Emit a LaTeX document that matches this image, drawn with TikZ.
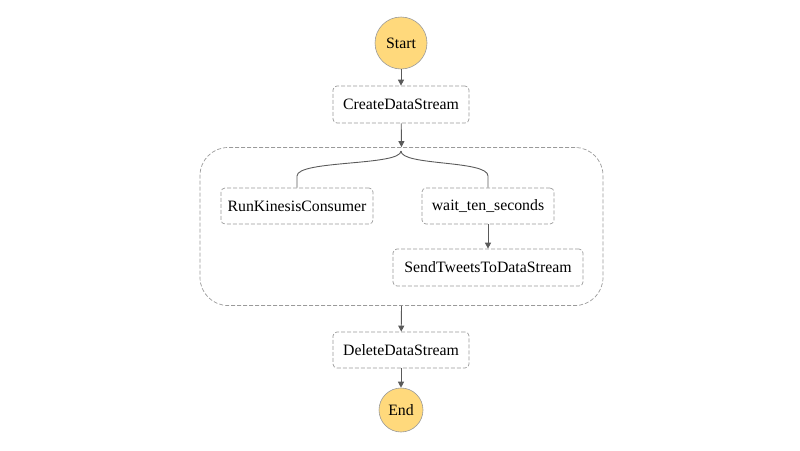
\documentclass[tikz,border=0pt]{standalone}
\usepackage{fontspec}
\setmainfont{Liberation Serif}
\usetikzlibrary{arrows.meta}
\definecolor{edgegray}{HTML}{5A5A5A}
\definecolor{boxgray}{HTML}{9A9A9A}
\definecolor{startfill}{HTML}{FFD97C}
\begin{document}
\begin{tikzpicture}[x=1pt,y=-1pt,
  statebox/.style={draw=boxgray, dashed, dash pattern=on 4pt off 2pt, rounded corners=4pt, line width=0.7pt, inner sep=0pt, font=\fontsize{15.8}{18}\selectfont},
  terminal/.style={circle, draw=boxgray, fill=startfill, line width=0.6pt, inner sep=0pt, font=\fontsize{15.8}{18}\selectfont},
  flow/.style={draw=edgegray, line width=0.9pt, -{Triangle[length=6pt,width=6pt]}},
  branch/.style={draw=edgegray, line width=0.9pt}]
\useasboundingbox (0,0) rectangle (800,450);
\node[terminal, minimum size=52pt] (start) at (401,43) {Start};
\node[statebox, minimum width=136pt, minimum height=37pt] (create) at (401,104.5) {CreateDataStream};
\node[draw=boxgray, dashed, dash pattern=on 4pt off 2pt, rounded corners=28pt, line width=0.7pt, minimum width=403pt, minimum height=158pt, inner sep=0pt] (par) at (401.5,226.5) {};
\node[statebox, minimum width=152pt, minimum height=36pt] (run) at (297,206) {RunKinesisConsumer};
\node[statebox, minimum width=132pt, minimum height=36pt] (wait) at (488,206) {wait\_ten\_seconds};
\node[statebox, minimum width=190pt, minimum height=37pt] (send) at (488,267.5) {SendTweetsToDataStream};
\node[statebox, minimum width=136pt, minimum height=36pt] (delete) at (401,350) {DeleteDataStream};
\node[terminal, minimum size=44pt] (end) at (401,410) {End};
\coordinate (fork) at (401,151);
\draw[flow] (start) -- (create);
\draw[flow] (create) -- (par.north);
\draw[branch] (fork) .. controls (401,166) and (297,160) .. (297,176) -- (run.north);
\draw[branch] (fork) .. controls (401,166) and (488,160) .. (488,176) -- (wait.north);
\draw[flow] (wait) -- (send);
\draw[flow] (par.south) -- (delete);
\draw[flow] (delete) -- (end);
\end{tikzpicture}
\end{document}
